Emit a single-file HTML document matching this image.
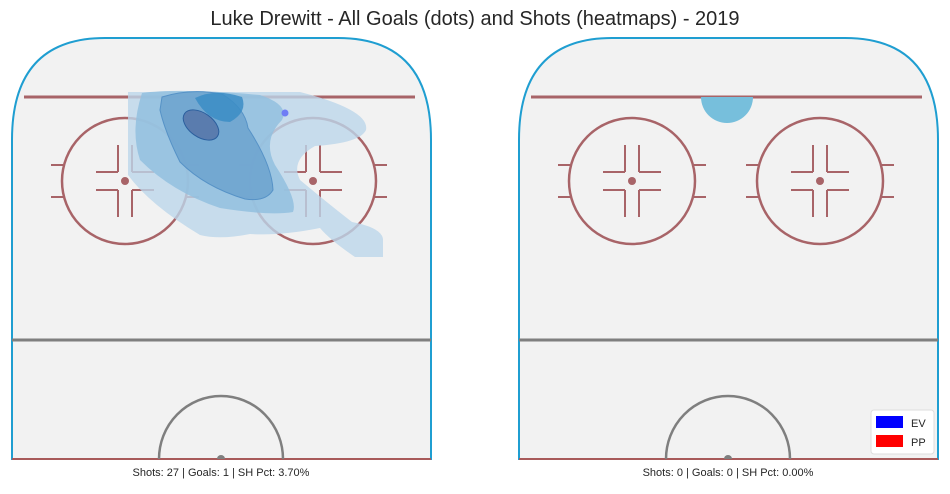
<!DOCTYPE html>
<html><head><meta charset="utf-8"><style>
body{margin:0;background:#fff;width:950px;height:489px;overflow:hidden;font-family:"Liberation Sans",sans-serif}
</style></head><body>
<svg width="950" height="489" viewBox="0 0 950 489">
<text x="475" y="25" text-anchor="middle" font-size="20" fill="#262626">Luke Drewitt - All Goals (dots) and Shots (heatmaps) - 2019</text>
<g id="rinks"></g>
</svg>
<script>
const panelOffsets=[0,507];
const shotCounts=[27,0];
const goalCounts=[1,0];
const shPct=["3.70%","0.00%"];
const goalX=[285]; const goalY=[113];
const NS="http://www.w3.org/2000/svg";
const root=document.getElementById('rinks');
function mk(tag,attrs,parent){const e=document.createElementNS(NS,tag);for(const k in attrs)e.setAttribute(k,attrs[k]);(parent||root).appendChild(e);return e;}
panelOffsets.forEach((o,i)=>{
  const g=mk('g',{transform:`translate(${o},0)`});
  
  
  const b=mk('path',{d:'M12,459 L12,140 Q12,38 105,38 L338,38 Q431,38 431,140 L431,459 Z',fill:'#f2f2f2',stroke:'#1f9ed1','stroke-width':2},g);
  
  
  mk('line',{x1:12,y1:459,x2:431,y2:459,stroke:'#a85a5a','stroke-width':2},g);
  const gl=mk('line',{x1:24,y1:97,x2:415,y2:97,stroke:'#a86468','stroke-width':3},g);
  
  
  const cl=mk('line',{x1:12,y1:340,x2:431,y2:340,stroke:'#7f7f7f','stroke-width':3},g);
  
  
  const bc=mk('path',{d:'M159,459 A62,63 0 0 1 283,459',fill:'none',stroke:'#7f7f7f','stroke-width':2.5},g);
  
  
  mk('path',{d:'M217,459 A4,4 0 0 1 225,459',fill:'#7f7f7f'},g);
  [125,313].forEach(c=>{
    const fc=mk('circle',{cx:c,cy:181,r:63,fill:'none',stroke:'#a86468','stroke-width':2.5},g);
    
    
    mk('circle',{cx:c,cy:181,r:4,fill:'#a86468'},g);
    const s='#a86468';
    [[c-7,145,c-7,172],[c+7,145,c+7,172],[c-7,190,c-7,217],[c+7,190,c+7,217],
     [c-29,172,c-7,172],[c+7,172,c+29,172],[c-29,190,c-7,190],[c+7,190,c+29,190],
     [c-74,165,c-62,165],[c-74,197,c-62,197],[c+62,165,c+74,165],[c+62,197,c+74,197]].forEach(l=>
      mk('line',{x1:l[0],y1:l[1],x2:l[2],y2:l[3],stroke:s,'stroke-width':2},g));
  });
  const t=mk('text',{x:221,y:476,'text-anchor':'middle','font-size':11,fill:'#262626'},g);
  t.textContent=`Shots: ${shotCounts[i]} | Goals: ${goalCounts[i]} | SH Pct: ${shPct[i]}`;
  
  
});
const hm=mk('g',{});


mk('path',{d:'M128,92 L300,92 Q370,110 366,130 Q360,143 315,146 Q290,160 300,180 Q330,205 352,222 Q383,228 383,240 L383,257 L355,257 Q330,240 320,228 Q280,236 250,234 Q220,240 200,235 Q150,205 128,175 Z',fill:'#bcd6ea',opacity:0.8},hm);
mk('path',{d:'M142,93 Q180,88 260,95 Q290,105 282,120 Q262,140 275,165 Q298,200 293,212 Q270,216 220,208 Q172,192 140,160 Q130,130 142,93 Z',fill:'#92c0df',opacity:0.85},hm);
mk('path',{d:'M162,97 Q190,88 222,94 Q245,108 248,128 Q272,165 273,190 Q266,202 245,199 Q205,187 180,162 Q165,132 160,110 Z',fill:'#6fa5d0',opacity:0.9,stroke:'#4f8dc4','stroke-width':1},hm);
mk('path',{d:'M195,98 Q215,88 242,97 Q248,112 230,122 Q208,122 195,98 Z',fill:'#3b8dc6',opacity:0.85},hm);
mk('ellipse',{cx:201,cy:125,rx:20,ry:12,transform:'rotate(35 201 125)',fill:'#5a7cae',stroke:'#2b5f9e','stroke-width':1},hm);
goalX.forEach((x,k)=>{const d=mk('circle',{cx:x,cy:goalY[k],r:3.5,fill:'#6f7df5'});
  
  });
const hr=mk('path',{d:'M701,97 A26,26 0 0 0 753,97 Z',fill:'#77bfdc'});


const lg=mk('g',{});


mk('rect',{x:871,y:410,width:63,height:44,rx:3,fill:'#fff',stroke:'#ddd'},lg);
mk('rect',{x:876,y:416,width:27,height:12,fill:'#0000ff'},lg);
mk('rect',{x:876,y:435,width:27,height:12,fill:'#ff0000'},lg);
const e1=mk('text',{x:911,y:427,'font-size':11,fill:'#262626'},lg);e1.textContent='EV';


const e2=mk('text',{x:911,y:446,'font-size':11,fill:'#262626'},lg);e2.textContent='PP';


</script>
</body></html>
